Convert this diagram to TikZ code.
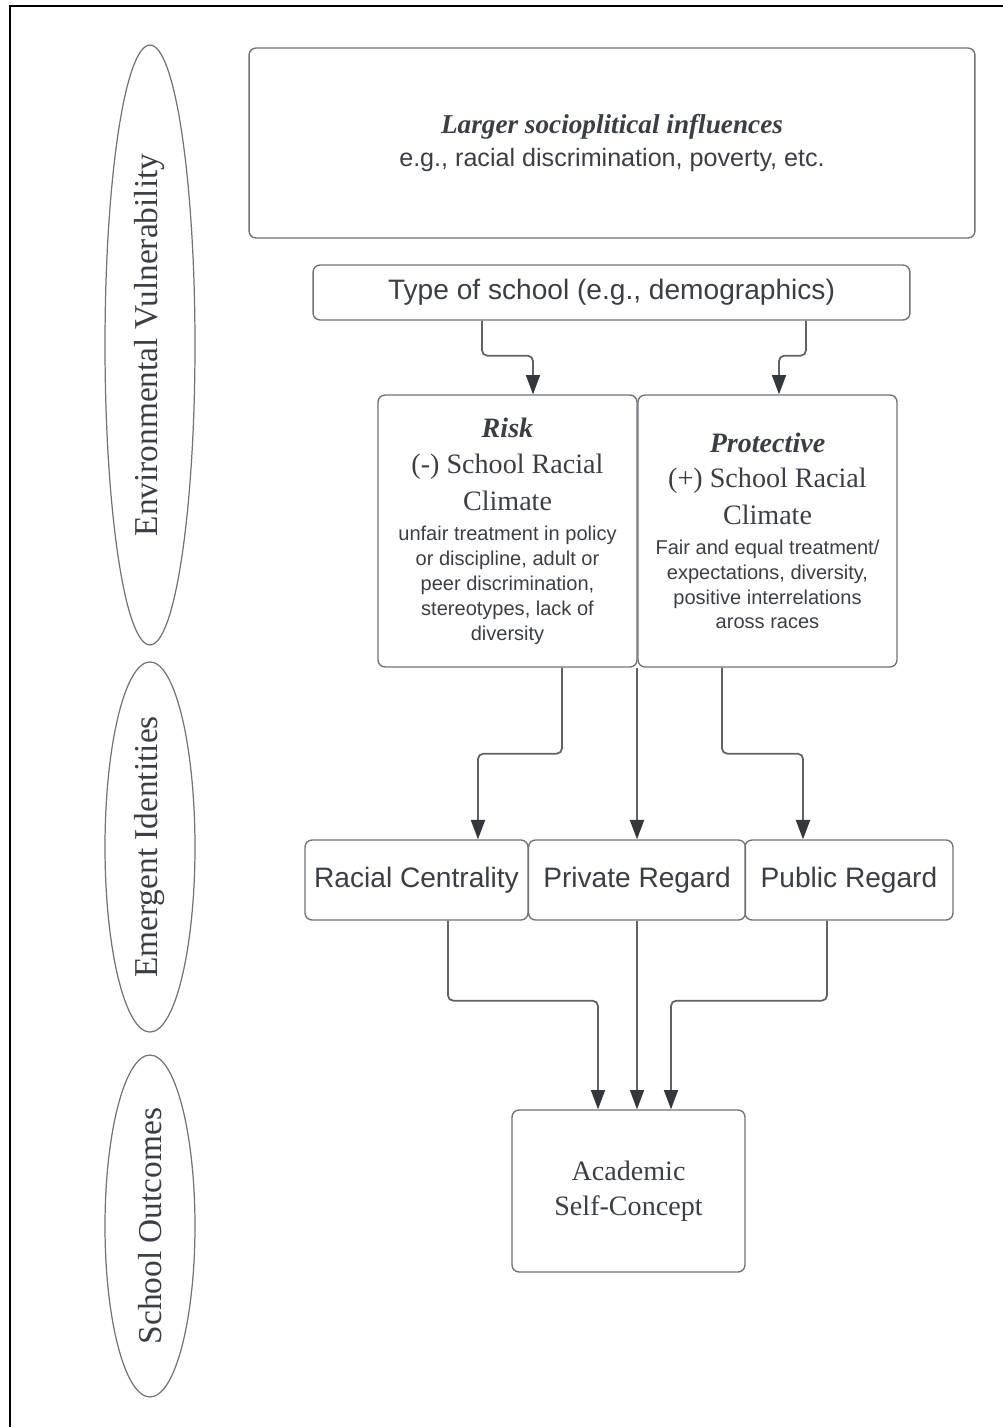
\documentclass[tikz,border=0pt]{standalone}
\usepackage{fontspec}
\setmainfont{Liberation Serif}
\setsansfont{Liberation Sans}
\usetikzlibrary{arrows.meta,shapes.geometric}

\definecolor{inkgray}{RGB}{58,63,70}
\definecolor{boxgray}{RGB}{112,116,120}
\definecolor{wiregray}{RGB}{95,99,104}
\definecolor{headgray}{RGB}{50,56,62}

\newcommand{\hdbi}{\rmfamily\bfseries\itshape\fontsize{16}{19.8}\selectfont}
\newcommand{\hdrm}{\rmfamily\fontsize{16}{19.8}\selectfont}

\tikzset{
  blk/.style={draw=boxgray, line width=0.8pt, rounded corners=4pt, text=inkgray, align=center, inner sep=0pt},
  lane/.style={draw=boxgray, line width=0.7pt, ellipse, rotate=90, text=inkgray, inner sep=0pt,
    font=\rmfamily\fontsize{19}{22}\selectfont},
  conn/.style={draw=wiregray, line width=1pt, rounded corners=3pt,
    -{Triangle[width=8pt,length=11pt,color=headgray]}},
}

\begin{document}
\begin{tikzpicture}[x=0.02cm,y=-0.02cm]
\useasboundingbox (0,0) rectangle (1003,1427);

% Frame (top and left edge only)
\draw[line width=1.1pt] (1003,6) -- (10,6) -- (10,1427);

% Side labels
\foreach \nm/\y/\h/\t in {ev/345/12/{Environmental Vulnerability}, ei/847/6.8/{Emergent Identities}, so/1226/6.84/{School Outcomes}} {
    \node[lane, minimum width=\h cm, minimum height=1.8cm] (\nm) at (150,\y) {\t};
}

% Context boxes
\node[blk, minimum width=14.52cm, minimum height=3.8cm, font=\sffamily\fontsize{14.3}{18.7}\selectfont] (soc) at (612,143)
    {{\rmfamily\bfseries\itshape\fontsize{15.5}{18}\selectfont Larger socioplitical influences}\\ e.g., racial discrimination, poverty, etc.};
\node[blk, minimum width=11.94cm, minimum height=1.1cm, font=\sffamily\fontsize{16}{19}\selectfont] (type) at (611.5,292.5)
    {\raisebox{-3pt}{Type of school (e.g., demographics)}};

% Climate boxes
\node[blk, minimum width=5.18cm, minimum height=5.44cm, font=\sffamily\fontsize{11.4}{14.2}\selectfont] (risk) at (507.5,531)
    {{\hdbi Risk}\\[6.5pt] {\hdrm (-) School Racial}\\[5.6pt] {\hdrm Climate}\\[2.8pt]
     unfair treatment in policy\\ or discipline, adult or\\ peer discrimination,\\ stereotypes, lack of\\ diversity};
\node[blk, minimum width=5.18cm, minimum height=5.44cm, font=\sffamily\fontsize{11.4}{14.2}\selectfont] (prot) at (767.5,531)
    {{\hdbi Protective}\\[5.6pt] {\hdrm (+) School Racial}\\[5.6pt] {\hdrm Climate}\\[2.8pt]
     Fair and equal treatment/\\ expectations, diversity,\\ positive interrelations\\ aross races};

% Identity boxes
\node[blk, minimum width=4.46cm, minimum height=1.6cm, font=\sffamily\fontsize{16}{19}\selectfont] (rc) at (416.5,880) {Racial Centrality};
\node[blk, minimum width=4.34cm, minimum height=1.6cm, font=\sffamily\fontsize{16}{19}\selectfont] (pr) at (637,880) {Private Regard};
\node[blk, minimum width=4.16cm, minimum height=1.6cm, font=\sffamily\fontsize{16}{19}\selectfont] (pub) at (849,880) {Public Regard};

% Outcome
\node[blk, minimum width=4.66cm, minimum height=3.24cm, font=\hdrm] (acad) at (628.5,1191) {Academic\\ Self-Concept};

% Connectors
\draw[conn] ([xshift=-2.59cm]type.south) -- ++(0,35) -| ([xshift=0.51cm]risk.north);
\draw[conn] ([xshift=3.89cm]type.south) -- ++(0,35) -| ([xshift=0.23cm]prot.north);
\draw[conn] ([xshift=1.09cm]risk.south) -- ++(0,86) -| ([xshift=1.23cm]rc.north);
\draw[conn] (pr.north |- risk.south) -- (pr.north);
\draw[conn] ([xshift=-0.91cm]prot.south) -- ++(0,86) -| ([xshift=-0.92cm]pub.north);
\draw[conn] ([xshift=0.63cm]rc.south) -- ++(0,80) -| ([xshift=-0.61cm]acad.north);
\draw[conn] (pr.south) -- (pr.south |- acad.north);
\draw[conn] ([xshift=-0.44cm]pub.south) -- ++(0,80) -| ([xshift=0.85cm]acad.north);
\end{tikzpicture}
\end{document}
